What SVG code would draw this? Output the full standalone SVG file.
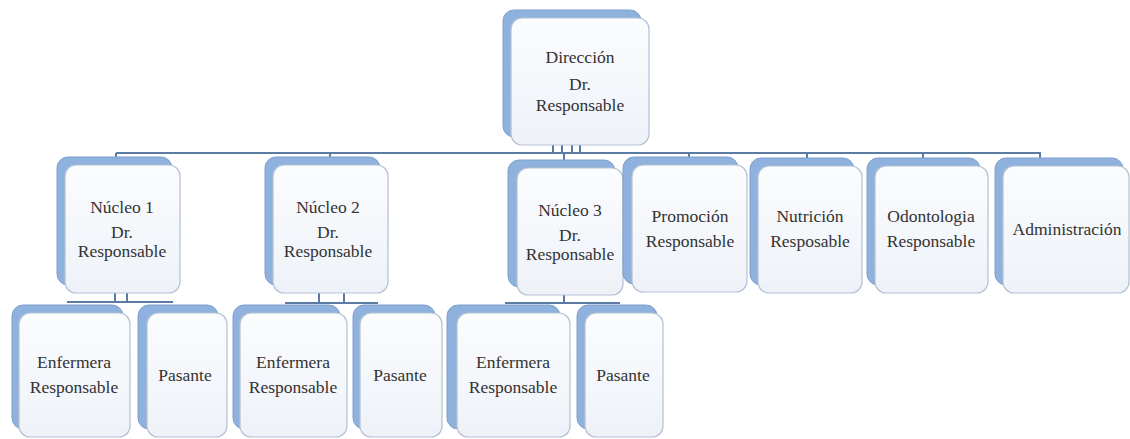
<svg xmlns="http://www.w3.org/2000/svg" width="1130" height="439" viewBox="0 0 1130 439">
<defs>
<linearGradient id="fg" x1="0" y1="0" x2="0" y2="1">
<stop offset="0" stop-color="#fbfcfe"/>
<stop offset="1" stop-color="#eef2f8"/>
</linearGradient>
<style>
.bk{fill:#8fb1dd;stroke:#7d9fcc;stroke-width:1}
.fr{fill:url(#fg);stroke:#b3c1d3;stroke-width:1.2}
.t{font-size:17.5px;fill:#333;text-anchor:middle}
.c{stroke:#5b7ba2;stroke-width:2;fill:none}
</style>
</defs>
<rect width="1130" height="439" fill="#ffffff"/>
<g id="connectors">
<path class="c" d="M116,153 H1040 V158"/>
<path class="c" d="M116,153 V158 M330,153 V158 M564,153 V160 M689,153 V158 M807,153 V158 M923,153 V158"/>
<path class="c" d="M553,145 V153 M562,145 V153 M572,145 V153 M580,145 V153" stroke-width="1.5"/>
<path class="c" d="M115,293 V302 M127,293 V302 M67,302 H173" stroke-width="1.5"/>
<path class="c" d="M319,293 V303 M344,293 V303 M285,303 H378" stroke-width="1.5"/>
<path class="c" d="M564,295 V303 M505,303 H620" stroke-width="1.5"/>
</g>
<g font-family="'Liberation Serif', 'DejaVu Serif', 'Times New Roman', serif">
<g id="direccion">
<rect class="bk" x="503" y="10" width="138" height="127" rx="11"/>
<rect class="fr" x="511" y="18" width="138" height="127" rx="11"/>
<text class="t" x="580" y="63" font-size="19">Dirección</text>
<text class="t" x="580" y="90" font-size="19">Dr.</text>
<text class="t" x="580" y="111" font-size="19">Responsable</text>
</g>
<g id="nucleo1">
<rect class="bk" x="57" y="157" width="115" height="128" rx="11"/>
<rect class="fr" x="65" y="165" width="115" height="128" rx="11"/>
<text class="t" x="122" y="213">Núcleo 1</text>
<text class="t" x="122" y="238">Dr.</text>
<text class="t" x="122" y="257">Responsable</text>
</g>
<g id="nucleo2">
<rect class="bk" x="265" y="157" width="115" height="128" rx="11"/>
<rect class="fr" x="273" y="165" width="115" height="128" rx="11"/>
<text class="t" x="328" y="213">Núcleo 2</text>
<text class="t" x="328" y="238">Dr.</text>
<text class="t" x="328" y="257">Responsable</text>
</g>
<g id="nucleo3">
<rect class="bk" x="508" y="160" width="107" height="127" rx="11"/>
<rect class="fr" x="517" y="168" width="106" height="127" rx="11"/>
<text class="t" x="570" y="216">Núcleo 3</text>
<text class="t" x="570" y="241">Dr.</text>
<text class="t" x="570" y="260">Responsable</text>
</g>
<g id="promocion">
<rect class="bk" x="623" y="157" width="115" height="127" rx="11"/>
<rect class="fr" x="632" y="165" width="115" height="127" rx="11"/>
<text class="t" x="690" y="222">Promoción</text>
<text class="t" x="690" y="247">Responsable</text>
</g>
<g id="nutricion">
<rect class="bk" x="750" y="158" width="104" height="127" rx="11"/>
<rect class="fr" x="758" y="166" width="104" height="127" rx="11"/>
<text class="t" x="810" y="222">Nutrición</text>
<text class="t" x="810" y="247">Resposable</text>
</g>
<g id="odontologia">
<rect class="bk" x="867" y="158" width="113" height="127" rx="11"/>
<rect class="fr" x="875" y="166" width="113" height="127" rx="11"/>
<text class="t" x="931" y="222">Odontologia</text>
<text class="t" x="931" y="247">Responsable</text>
</g>
<g id="administracion">
<rect class="bk" x="995" y="158" width="128" height="127" rx="11"/>
<rect class="fr" x="1003" y="166" width="126" height="127" rx="11"/>
<text class="t" x="1067" y="235">Administración</text>
</g>
<g id="enfermera1">
<rect class="bk" x="12" y="305" width="111" height="124" rx="11"/>
<rect class="fr" x="19" y="313" width="111" height="124" rx="11"/>
<text class="t" x="74" y="368">Enfermera</text>
<text class="t" x="74" y="393">Responsable</text>
</g>
<g id="pasante1">
<rect class="bk" x="138" y="305" width="80" height="124" rx="11"/>
<rect class="fr" x="147" y="313" width="80" height="124" rx="11"/>
<text class="t" x="185" y="381">Pasante</text>
</g>
<g id="enfermera2">
<rect class="bk" x="233" y="305" width="107" height="124" rx="11"/>
<rect class="fr" x="240" y="313" width="107" height="124" rx="11"/>
<text class="t" x="293" y="368">Enfermera</text>
<text class="t" x="293" y="393">Responsable</text>
</g>
<g id="pasante2">
<rect class="bk" x="353" y="305" width="82" height="124" rx="11"/>
<rect class="fr" x="360" y="313" width="82" height="124" rx="11"/>
<text class="t" x="400" y="381">Pasante</text>
</g>
<g id="enfermera3">
<rect class="bk" x="447" y="305" width="113" height="124" rx="11"/>
<rect class="fr" x="457" y="313" width="113" height="124" rx="11"/>
<text class="t" x="513" y="368">Enfermera</text>
<text class="t" x="513" y="393">Responsable</text>
</g>
<g id="pasante3">
<rect class="bk" x="577" y="305" width="80" height="124" rx="11"/>
<rect class="fr" x="585" y="313" width="78" height="124" rx="11"/>
<text class="t" x="623" y="381">Pasante</text>
</g>
</g>
</svg>
